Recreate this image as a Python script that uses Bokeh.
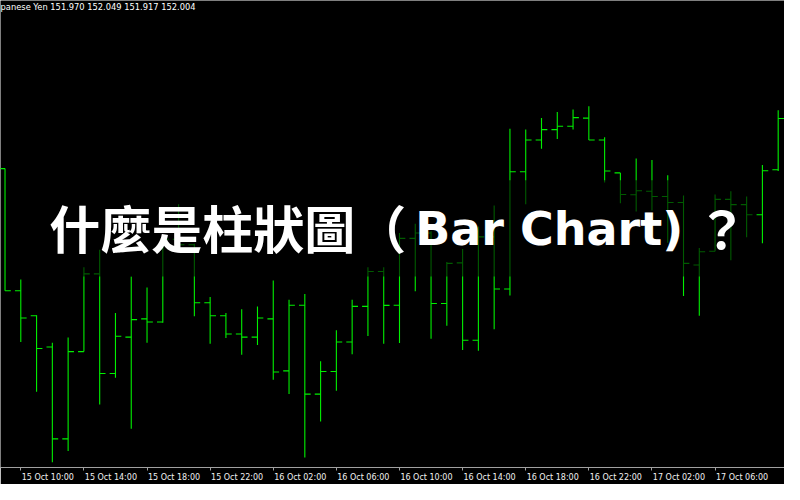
from bokeh.plotting import figure
from bokeh.models import Range1d, FixedTicker, Label, BoxAnnotation
from bokeh.embed import file_html
from bokeh.resources import INLINE

# USDJPY H1 bars, first bar = 15 Oct 09:00, one bar per hour
opens = [151.801, 151.293, 151.189, 151.059, 150.677, 151.040, 151.363, 150.949, 151.100, 151.176,
         151.163, 151.507, 151.484, 151.243, 151.189, 151.113, 151.100, 151.176, 150.960, 151.233,
         150.863, 150.957, 151.080, 151.228, 151.373, 151.233, 151.511, 151.533, 151.240, 151.409,
         151.087, 151.517, 151.300, 151.788, 151.920, 151.963, 151.977, 152.011, 151.920, 151.783,
         151.692, 151.707, 151.685, 151.660, 151.400, 151.457, 151.673, 151.651, 151.609, 151.796]
highs = [151.801, 151.340, 151.191, 151.077, 151.099, 151.391, 151.464, 151.201, 151.352, 151.307,
         151.512, 151.653, 151.488, 151.267, 151.200, 151.216, 151.227, 151.336, 151.256, 151.280,
         151.000, 151.129, 151.256, 151.391, 151.391, 151.533, 151.572, 151.540, 151.413, 151.467,
         151.560, 151.647, 151.967, 151.964, 152.011, 152.036, 152.047, 152.060, 151.931, 151.783,
         151.843, 151.837, 151.773, 151.689, 151.471, 151.693, 151.707, 151.685, 151.816, 152.044]
lows = [151.293, 151.080, 150.873, 150.580, 150.627, 151.040, 150.820, 150.931, 150.719, 151.077,
        151.160, 151.476, 151.187, 151.073, 151.097, 151.027, 151.067, 150.923, 150.864, 150.600,
        150.749, 150.877, 151.029, 151.105, 151.073, 151.076, 151.291, 151.093, 151.147, 151.047,
        151.044, 151.133, 151.273, 151.653, 151.883, 151.924, 151.964, 151.920, 151.743, 151.657,
        151.623, 151.627, 151.493, 151.271, 151.189, 151.457, 151.420, 151.516, 151.491, 151.791]
closes = [151.293, 151.180, 151.053, 150.677, 151.040, 151.363, 150.949, 151.104, 151.173, 151.163,
          151.507, 151.484, 151.243, 151.189, 151.113, 151.100, 151.180, 150.955, 151.233, 150.863,
          150.957, 151.080, 151.228, 151.373, 151.232, 151.511, 151.533, 151.240, 151.407, 151.087,
          151.517, 151.300, 151.788, 151.920, 151.963, 151.977, 152.013, 151.920, 151.791, 151.693,
          151.709, 151.685, 151.660, 151.407, 151.455, 151.673, 151.651, 151.609, 151.792, 152.009]

tick_bars = [1, 5, 9, 13, 17, 21, 25, 29, 33, 37, 41, 45]
tick_labels = ["15 Oct 10:00", "15 Oct 14:00", "15 Oct 18:00", "15 Oct 22:00",
               "16 Oct 02:00", "16 Oct 06:00", "16 Oct 10:00", "16 Oct 14:00",
               "16 Oct 18:00", "16 Oct 22:00", "17 Oct 02:00", "17 Oct 06:00"]

header = "panese Yen  151.970 152.049 151.917 152.004"
title_cjk = "什麼是柱狀圖（"
title_latin = "Bar Chart)"
title_end = "？"

idx = list(range(len(opens)))
tw = 0.37
bar_color = "#00f000"

p = figure(width=784, height=484, output_backend="svg", toolbar_location=None,
           x_range=Range1d(-0.286, 49.40), y_range=Range1d(150.558, 152.50),
           min_border=0, y_axis_location=None)
p.background_fill_color = "black"
p.border_fill_color = "black"
p.outline_line_color = None
p.grid.visible = False

p.segment(x0=idx, y0=lows, x1=idx, y1=highs, line_color=bar_color, line_width=1.1)
p.segment(x0=[i - tw for i in idx], y0=opens, x1=idx, y1=opens, line_color=bar_color, line_width=1.1)
p.segment(x0=idx, y0=closes, x1=[i + tw for i in idx], y1=closes, line_color=bar_color, line_width=1.1)

# dark shade behind the title
p.add_layout(BoxAnnotation(left=1.58, right=47.5, bottom=151.352, top=151.752,
                           fill_color="black", fill_alpha=0.62, line_color=None))

p.add_layout(Label(x=2.8, y=151.56, text=title_cjk, text_color="white",
                   text_font="Noto Sans CJK TC", text_font_style="bold",
                   text_font_size="51px", text_align="left", text_baseline="middle"))
p.add_layout(Label(x=26.0, y=151.55, text=title_latin, text_color="white",
                   text_font="DejaVu Sans", text_font_style="bold",
                   text_font_size="46px", text_align="left", text_baseline="middle"))
p.add_layout(Label(x=43.8, y=151.56, text=title_end, text_color="white",
                   text_font="Noto Sans CJK TC", text_font_style="bold",
                   text_font_size="51px", text_align="left", text_baseline="middle"))

p.add_layout(Label(x=-0.28, y=152.494, text=header, text_color="white",
                   text_font="DejaVu Sans", text_font_size="8.3px",
                   text_align="left", text_baseline="top"))

off = 1.71
major = [round(b + off, 2) for b in tick_bars]
ax = p.xaxis[0]
ax.ticker = FixedTicker(ticks=major, minor_ticks=tick_bars)
ax.major_label_overrides = {m: lab for m, lab in zip(major, tick_labels)}
ax.major_tick_out = 0
ax.major_tick_in = 0
ax.minor_tick_out = 3
ax.minor_tick_in = 0
ax.minor_tick_line_color = "#a0a0a0"
ax.axis_line_color = "#a0a0a0"
ax.major_label_text_color = "#f0f0f0"
ax.major_label_text_font = "DejaVu Sans"
ax.major_label_text_font_size = "8px"
ax.major_label_standoff = 2

html = file_html(p, INLINE)
html = html.replace("<body>", "<body style=\"background:#000000;\">", 1)
open("out.html", "w").write(html)
